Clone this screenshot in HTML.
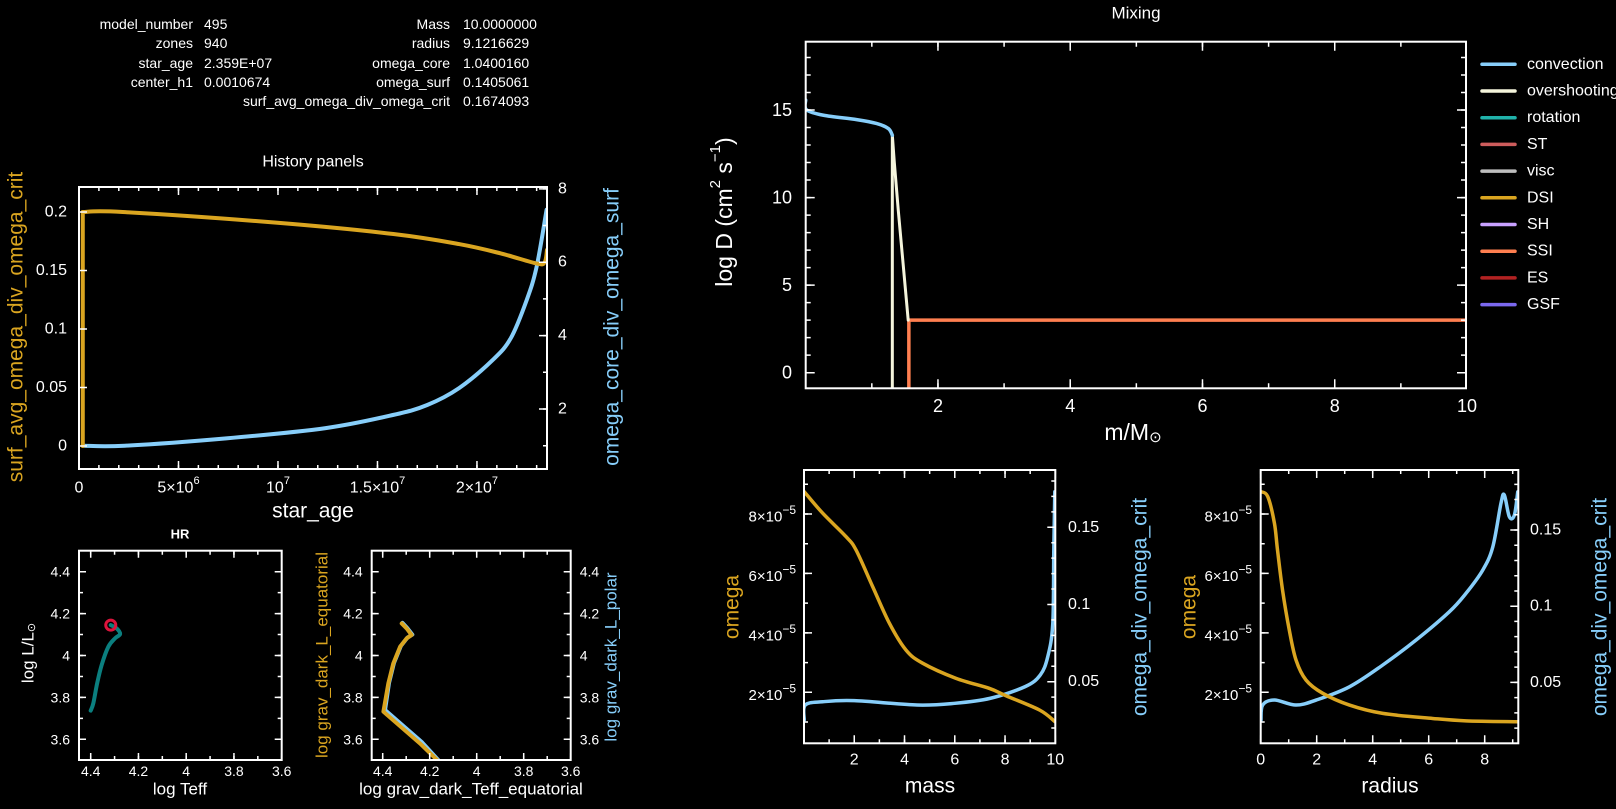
<!DOCTYPE html>
<html><head><meta charset="utf-8"><style>
html,body{margin:0;padding:0;background:#000;}
svg{display:block;font-family:"Liberation Sans",sans-serif;}
</style></head><body>
<svg id="chart" width="1616" height="809" viewBox="0 0 1616 809" xmlns="http://www.w3.org/2000/svg">
<rect x="0" y="0" width="1616" height="809" fill="#000"/>
<g fill="#fff" font-size="14">
<text x="193" y="24" text-anchor="end" dominant-baseline="central">model_number</text>
<text x="204" y="24" dominant-baseline="central">495</text>
<text x="193" y="43" text-anchor="end" dominant-baseline="central">zones</text>
<text x="204" y="43" dominant-baseline="central">940</text>
<text x="193" y="63" text-anchor="end" dominant-baseline="central">star_age</text>
<text x="204" y="63" dominant-baseline="central">2.359E+07</text>
<text x="193" y="82" text-anchor="end" dominant-baseline="central">center_h1</text>
<text x="204" y="82" dominant-baseline="central">0.0010674</text>
<text x="450" y="24" text-anchor="end" dominant-baseline="central">Mass</text>
<text x="463" y="24" dominant-baseline="central">10.0000000</text>
<text x="450" y="43" text-anchor="end" dominant-baseline="central">radius</text>
<text x="463" y="43" dominant-baseline="central">9.1216629</text>
<text x="450" y="63" text-anchor="end" dominant-baseline="central">omega_core</text>
<text x="463" y="63" dominant-baseline="central">1.0400160</text>
<text x="450" y="82" text-anchor="end" dominant-baseline="central">omega_surf</text>
<text x="463" y="82" dominant-baseline="central">0.1405061</text>
<text x="450" y="101" text-anchor="end" dominant-baseline="central">surf_avg_omega_div_omega_crit</text>
<text x="463" y="101" dominant-baseline="central">0.1674093</text>
</g>
</svg>
<script>
// ---------- History panel data ----------
const histAgeA = [0.19e6,0.19e6,2.2e6,9.9e6,15.8e6,19.1e6,21.2e6,23.0e6,23.4e6,23.52e6];
const histSurfAvg = [0,0.2,0.2,0.1909,0.1812,0.1726,0.1646,0.156,0.157,0.1675];
const histAgeB = [0.19e6,2.3e6,7.4e6,12.4e6,15.8e6,17.5e6,19.1e6,20.8e6,21.7e6,22.5e6,23.0e6,23.5e6];
const histCoreSurf = [1.0,1.0,1.2,1.48,1.84,2.11,2.57,3.34,3.93,4.97,5.88,7.43];
const histXTicks = [0,5e6,1e7,1.5e7,2e7];
const histXTickLabels = [["0",""],["5×10","6"],["10","7"],["1.5×10","7"],["2×10","7"]];
const histYLeftTicks = [0,0.05,0.1,0.15,0.2];
const histYLeftLabels = ["0","0.05","0.1","0.15","0.2"];
const histYRightTicks = [2,4,6,8];
const histYRightLabels = ["2","4","6","8"];
// ---------- HR data ----------
const hrLogTeff = [4.4,4.389,4.373,4.354,4.326,4.298,4.277,4.291,4.316];
const hrLogL = [3.737,3.772,3.867,3.955,4.042,4.082,4.102,4.129,4.145];
const hrCurrent = [4.316,4.145];
const hrTicks = [4.4,4.2,4,3.8,3.6];
const hrTickLabels = ["4.4","4.2","4","3.8","3.6"];
const hrYTicks = [3.6,3.8,4,4.2,4.4];
const hrYTickLabels = ["3.6","3.8","4","4.2","4.4"];
// ---------- grav darkening data ----------
const gdTeffEq = [4.14,4.241,4.397,4.376,4.355,4.326,4.298,4.277,4.298,4.319];
const gdLEq = [3.47,3.58,3.732,3.867,3.962,4.042,4.082,4.098,4.129,4.153];
const gdTeffPol = [4.13,4.232,4.39,4.373,4.352,4.323,4.295,4.274,4.295,4.316];
const gdLPol = [3.46,3.585,3.74,3.87,3.965,4.045,4.085,4.1,4.13,4.156];
// ---------- Mixing data ----------
const mixConvM = [0.0,0.01,0.27,0.77,1.07,1.25,1.31];
const mixConvD = [15.56,15.02,14.7,14.45,14.23,13.94,13.56];
const mixOverM = [1.31,1.31,1.34,1.40,1.55];
const mixOverD = [-2,13.56,12.0,9.27,3.0];
const mixSSIM = [1.56,1.56,10,10];
const mixSSID = [-2,3.0,3.0,-2];
const mixEdgeConvM = [10,10];
const mixEdgeConvD = [15.75,9.47];
const mixEdgeOverM = [10,10];
const mixEdgeOverD = [9.47,3.0];
const mixXTicks = [2,4,6,8,10];
const mixYTicks = [0,5,10,15];
const mixLegendNames = ["convection","overshooting","rotation","ST","visc","DSI","SH","SSI","ES","GSF"];
const mixLegendColors = ["#87cefa","#f5f5dc","#20b2aa","#cd5c5c","#bebebe","#daa520","#c8a0ff","#ff7f50","#b22222","#7b68ee"];
// ---------- profile vs mass ----------
const pmMass = [0.01,0.74,1.67,2.07,2.73,3.4,4.06,4.72,6.05,7.38,8.05,9.38,9.99];
const pmOmega = [8.75e-5,8.03e-5,7.24e-5,6.79e-5,5.56e-5,4.32e-5,3.42e-5,2.98e-5,2.47e-5,2.13e-5,1.88e-5,1.40e-5,1.01e-5];
const pmMassB = [0.01,0.05,0.74,2.0,4.5,6.0,7.4,8.8,9.4,9.7,9.9,9.94,9.98];
const pmRatio = [0.0252,0.0349,0.037,0.0377,0.0349,0.036,0.0392,0.0468,0.0543,0.0662,0.0878,0.1353,0.173];
// ---------- profile vs radius ----------
const prRad = [0.01,0.25,0.49,0.6,0.78,1.02,1.26,1.62,2.21,3.17,4.36,6.14,7.33,9.2];
const prOmega = [8.75e-5,8.59e-5,7.69e-5,6.79e-5,5.44e-5,4.10e-5,3.09e-5,2.41e-5,1.97e-5,1.57e-5,1.29e-5,1.12e-5,1.04e-5,1.01e-5];
const prRadB = [0.01,0.07,0.49,1.26,1.98,3.17,4.36,5.55,6.74,7.33,7.93,8.29,8.58,8.7,8.88,9.06,9.18];
const prRatio = [0.0252,0.0351,0.0384,0.0351,0.0384,0.0471,0.0614,0.0778,0.0964,0.1084,0.1237,0.139,0.1675,0.173,0.1587,0.1598,0.175];
const profXTicksMass = [2,4,6,8,10];
const profXTicksRad = [0,2,4,6,8];
const profYLeftTicks = [2e-5,4e-5,6e-5,8e-5];
const profYLeftLabels = [["2×10","−5"],["4×10","−5"],["6×10","−5"],["8×10","−5"]];
const profYRightTicks = [0.05,0.1,0.15];
const profYRightLabels = ["0.05","0.1","0.15"];

const NS='http://www.w3.org/2000/svg';
const svg=document.getElementById('chart');
const ORANGE='#daa520', BLUE='#87cefa';
function mk(tag,parent){const e=document.createElementNS(NS,tag);(parent||svg).appendChild(e);return e;}
function scale(d0,d1,r0,r1){return v=>r0+(v-d0)/(d1-d0)*(r1-r0);}
function steps(a,b,s){const o=[];for(let i=0;a+i*s<=b+s*1e-6;i++)o.push(a+i*s);return o;}
let clipId=0;
function group(name){const g=mk('g');return g;}
function clipFor(b){const cp=mk('clipPath');cp.setAttribute('id','c'+(++clipId));const r=mk('rect',cp);r.setAttribute('x',b.x0);r.setAttribute('y',b.y0);r.setAttribute('width',b.x1-b.x0);r.setAttribute('height',b.y1-b.y0);return 'url(#c'+clipId+')';}
function frame(g,b){const r=mk('rect',g);


r.setAttribute('x',b.x0);r.setAttribute('y',b.y0);r.setAttribute('width',b.x1-b.x0);r.setAttribute('height',b.y1-b.y0);r.setAttribute('fill','none');r.setAttribute('stroke','#fff');r.setAttribute('stroke-width','2');}
function tickPath(g,d,name){const p=mk('path',g);


p.setAttribute('d',d);p.setAttribute('stroke','#fff');p.setAttribute('stroke-width','1.5');p.setAttribute('fill','none');}
function xTicks(g,sx,b,vals,len){let d='';vals.forEach(v=>{const x=sx(v);if(x<b.x0-0.5||x>b.x1+0.5)return;d+=`M${x},${b.y1}v${-len}M${x},${b.y0}v${len}`;});tickPath(g,d,'x-ticks');}
function yTicks(g,sy,b,vals,len,side){let d='';vals.forEach(v=>{const y=sy(v);if(y<b.y0-0.5||y>b.y1+0.5)return;if(side!=='right')d+=`M${b.x0},${y}h${len}`;if(side!=='left')d+=`M${b.x1},${y}h${-len}`;});tickPath(g,d,'y-ticks');}
function text(g,x,y,s,opt){const t=mk('text',g);t.setAttribute('x',x);t.setAttribute('y',y);t.setAttribute('fill',opt.color||'#fff');t.setAttribute('font-size',opt.size||14);t.setAttribute('text-anchor',opt.anchor||'middle');t.setAttribute('dominant-baseline','central');if(opt.rot)t.setAttribute('transform',`rotate(${opt.rot} ${x} ${y})`);if(opt.weight)t.setAttribute('font-weight',opt.weight);t.textContent=s;return t;}
function sup(t,s,dy,size){const ts=mk('tspan',t);ts.setAttribute('dy',dy);ts.setAttribute('font-size',size);ts.textContent=s;return ts;}
function pathD(pts,smooth){
if(!smooth||pts.length<3)return 'M'+pts.map(p=>p[0].toFixed(2)+','+p[1].toFixed(2)).join('L');
let d='M'+pts[0][0].toFixed(2)+','+pts[0][1].toFixed(2);
for(let i=0;i<pts.length-1;i++){const p0=pts[Math.max(0,i-1)],p1=pts[i],p2=pts[i+1],p3=pts[Math.min(pts.length-1,i+2)];
const c1=[p1[0]+(p2[0]-p0[0])/6,p1[1]+(p2[1]-p0[1])/6],c2=[p2[0]-(p3[0]-p1[0])/6,p2[1]-(p3[1]-p1[1])/6];
d+=`C${c1[0].toFixed(2)},${c1[1].toFixed(2)} ${c2[0].toFixed(2)},${c2[1].toFixed(2)} ${p2[0].toFixed(2)},${p2[1].toFixed(2)}`;}
return d;}
function line(g,xs,ys,sx,sy,color,w,name,clip,smooth){const p=mk('path',g);


p.setAttribute('d',pathD(xs.map((x,i)=>[sx(x),sy(ys[i])]),smooth));p.setAttribute('fill','none');p.setAttribute('stroke',color);p.setAttribute('stroke-width',w);p.setAttribute('stroke-linejoin','round');p.setAttribute('stroke-linecap','round');p.setAttribute('clip-path',clip);return p;}

// ===== History panel =====
(function(){
const g=group('history-panel');
const b={x0:79,x1:547,y0:187,y1:469};
const sx=scale(0,2.352e7,b.x0,b.x1), syL=scale(-0.0197,0.2214,b.y1,b.y0), syR=scale(0.365,8.05,b.y1,b.y0);
const clip=clipFor(b);
const tt=text(g,313,162,'History panels',{size:16});


line(g,histAgeB,histCoreSurf,sx,syR,BLUE,4,'line-omega-core-div-omega-surf',clip,true);
line(g,histAgeA.slice(0,2),histSurfAvg.slice(0,2),sx,syL,ORANGE,4,'line-surf-avg-initial-jump',clip,false);
line(g,histAgeA.slice(1),histSurfAvg.slice(1),sx,syL,ORANGE,4,'line-surf-avg-omega-div-omega-crit',clip,true);
frame(g,b);
xTicks(g,sx,b,steps(0,2.3e7,1e6),4);xTicks(g,sx,b,histXTicks,8);
yTicks(g,syL,b,histYLeftTicks,8,'left');
yTicks(g,syR,b,steps(1,8,1),4,'right');yTicks(g,syR,b,histYRightTicks,8,'right');
histXTicks.forEach((v,i)=>{const t=text(g,sx(v),488,histXTickLabels[i][0],{size:16});


if(histXTickLabels[i][1])sup(t,histXTickLabels[i][1],-7,11);});
histYLeftTicks.forEach((v,i)=>{const t=text(g,67,syL(v),histYLeftLabels[i],{size:16,anchor:'end'});

});
histYRightTicks.forEach((v,i)=>{const t=text(g,558,syR(v),histYRightLabels[i],{size:16,anchor:'start'});

});
const xl=text(g,313,511,'star_age',{size:21});


const yl=text(g,16,327,'surf_avg_omega_div_omega_crit',{size:21,rot:-90,color:ORANGE});


const yr=text(g,612,327,'omega_core_div_omega_surf',{size:21,rot:-90,color:BLUE});


})();

// ===== HR panel & grav dark panel =====
function hrAxes(g,b,sx,sy,leftLab,rightLab){
frame(g,b);
xTicks(g,sx,b,steps(3.6,4.45,0.1),4);xTicks(g,sx,b,hrTicks,7);
yTicks(g,sy,b,steps(3.5,4.5,0.1),4,'both');yTicks(g,sy,b,hrYTicks,7,'both');
hrTicks.forEach((v,i)=>{const t=text(g,sx(v),771,hrTickLabels[i],{size:14});

});
hrYTicks.forEach((v,i)=>{
if(leftLab){const t=text(g,b.x0-9,sy(v),hrYTickLabels[i],{size:14,anchor:'end'});

}
if(rightLab){const t=text(g,b.x1+9,sy(v),hrYTickLabels[i],{size:14,anchor:'start'});

}
});
}
(function(){
const g=group('hr-panel');
const b={x0:79,x1:281.7,y0:550.7,y1:760};
const sx=scale(4.4,3.6,90.7,281.7), sy=scale(3.6,4.4,739.3,571.7);
const clip=clipFor(b);
const t=text(g,180,534,'HR',{size:13,weight:'bold'});


line(g,hrLogTeff,hrLogL,sx,sy,'#0b7f7f',4,'hr-track',clip,true);
const c=mk('circle',g);


c.setAttribute('cx',sx(hrCurrent[0]));c.setAttribute('cy',sy(hrCurrent[1]));c.setAttribute('r',5);c.setAttribute('fill','none');c.setAttribute('stroke','#dc143c');c.setAttribute('stroke-width',3);
hrAxes(g,b,sx,sy,true,false);
const xl=text(g,180,789,'log Teff',{size:17});


const yl=text(g,28,653,'log L/L',{size:17,rot:-90});


const s=mk('tspan',yl);s.setAttribute('font-size',11);s.setAttribute('dy',4);s.textContent='⊙';
})();
(function(){
const g=group('grav-dark-panel');
const b={x0:371.7,x1:570.7,y0:550.7,y1:760};
const sx=scale(4.4,3.6,382.7,570.7), sy=scale(3.6,4.4,739.3,571.7);
const clip=clipFor(b);
line(g,gdTeffPol,gdLPol,sx,sy,BLUE,4,'polar-track',clip,false);
line(g,gdTeffEq,gdLEq,sx,sy,ORANGE,4,'equatorial-track',clip,false);
hrAxes(g,b,sx,sy,true,true);
const xl=text(g,471,789,'log grav_dark_Teff_equatorial',{size:17});


const yl=text(g,322,655,'log grav_dark_L_equatorial',{size:17,rot:-90,color:ORANGE});


const yr=text(g,611,657,'log grav_dark_L_polar',{size:17,rot:-90,color:BLUE});


})();

// ===== Mixing panel =====
(function(){
const g=group('mixing-panel');
const b={x0:805.7,x1:1466,y0:41.7,y1:388.3};
const sx=scale(0,10,805.7,1467), sy=scale(0,15,372.7,110);
const clip=clipFor(b);
const t=text(g,1136,13,'Mixing',{size:17});


line(g,mixSSIM,mixSSID,sx,sy,'#ff7f50',3.5,'line-ssi',clip,false);
line(g,mixOverM,mixOverD,sx,sy,'#f5f5dc',3,'line-overshooting',clip,false);
line(g,mixConvM,mixConvD,sx,sy,BLUE,3.5,'line-convection',clip,true);
line(g,mixEdgeOverM,mixEdgeOverD,sx,sy,'#f5f5dc',3,'line-overshooting-surface',clip,false);
line(g,mixEdgeConvM,mixEdgeConvD,sx,sy,BLUE,3,'line-convection-surface',clip,false);
frame(g,b);
xTicks(g,sx,b,steps(1,10,1),5);xTicks(g,sx,b,mixXTicks,9);
yTicks(g,sy,b,steps(0,18,1),5,'both');yTicks(g,sy,b,mixYTicks,9,'both');
mixXTicks.forEach(v=>{const l=text(g,sx(v),406,String(v),{size:18});

});
mixYTicks.forEach(v=>{const l=text(g,792,sy(v),String(v),{size:18,anchor:'end'});

});
const xl=text(g,1133,432,'m/M',{size:23});


const s=mk('tspan',xl);s.setAttribute('font-size',15);s.setAttribute('dy',5);s.textContent='⊙';
const yl=text(g,724,212,'log D (cm',{size:23,rot:-90});


sup(yl,'2',-9,15);const a=mk('tspan',yl);a.setAttribute('dy',9);a.textContent=' s';sup(yl,'−1',-9,15);const c=mk('tspan',yl);c.setAttribute('dy',9);c.textContent=')';
const lg=group('mixing-legend');
mixLegendNames.forEach((n,i)=>{const y=64.3+i*26.7;
const ln=mk('line',lg);


ln.setAttribute('x1',1482);ln.setAttribute('x2',1515);ln.setAttribute('y1',y);ln.setAttribute('y2',y);ln.setAttribute('stroke',mixLegendColors[i]);ln.setAttribute('stroke-width',3.5);ln.setAttribute('stroke-linecap','round');
const tx=text(lg,1527,y,n,{size:16,anchor:'start'});

});
})();

// ===== Profile panels =====
function profilePanel(name,b,xmax,xs,om,xsB,rat,xticks,xtitle,rmin,rmax,leftLabX,rightLabX,ylX,yrX,xtX){
const g=group(name);
const sx=scale(0,xmax,b.x0,b.x1), syL=scale(2e-5,8e-5,692.3,514), syR=scale(rmin,rmax,b.y1,b.y0);
const clip=clipFor(b);
line(g,xsB,rat,sx,syR,BLUE,3.5,'line-omega-div-omega-crit',clip,true);
line(g,xs,om,sx,syL,ORANGE,3.5,'line-omega',clip,true);
frame(g,b);
xTicks(g,sx,b,steps(0,xmax,1),4);xTicks(g,sx,b,xticks,8);
yTicks(g,syL,b,steps(1e-5,9e-5,1e-5),4,'left');yTicks(g,syL,b,profYLeftTicks,8,'left');
yTicks(g,syR,b,steps(0.02,0.18,0.01),4,'right');yTicks(g,syR,b,profYRightTicks,8,'right');
xticks.forEach(v=>{const l=text(g,sx(v),760,String(v),{size:16});

});
profYLeftTicks.forEach((v,i)=>{const l=text(g,leftLabX,syL(v)+3,profYLeftLabels[i][0],{size:15,anchor:'end'});


sup(l,profYLeftLabels[i][1],-7,12);l.setAttribute('x',leftLabX);});
profYRightTicks.forEach((v,i)=>{const l=text(g,rightLabX,syR(v),profYRightLabels[i],{size:16,anchor:'start'});

});
const xl=text(g,xtX,786,xtitle,{size:21});


const yl=text(g,ylX,607,'omega',{size:21,rot:-90,color:ORANGE});


const yr=text(g,yrX,607,'omega_div_omega_crit',{size:21,rot:-90,color:BLUE});


}
profilePanel('profile-vs-mass-panel',{x0:804,x1:1055.3,y0:470,y1:743.3},10,pmMass,pmOmega,pmMassB,pmRatio,profXTicksMass,'mass',0.0101,0.1871,796,1068,732,1140,930);
profilePanel('profile-vs-radius-panel',{x0:1260.7,x1:1518.3,y0:470,y1:743.3},9.2,prRad,prOmega,prRadB,prRatio,profXTicksRad,'radius',0.01,0.1894,1252,1530,1189,1600,1390);
</script>
</body></html>
